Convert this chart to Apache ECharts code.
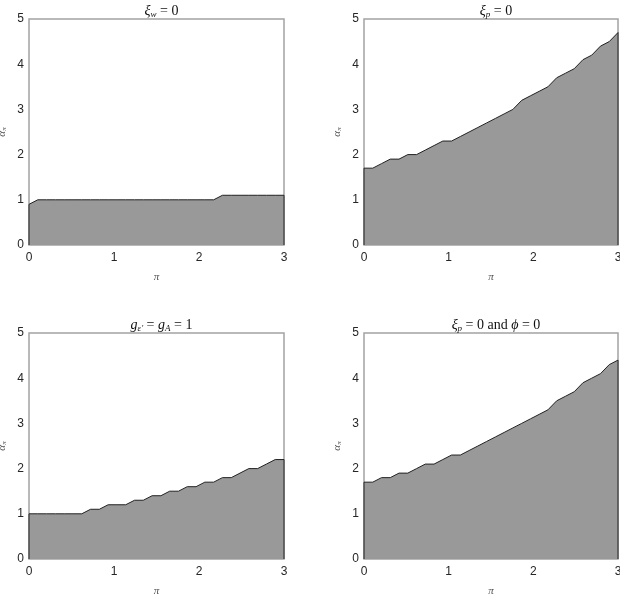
<!DOCTYPE html>
<html><head><meta charset="utf-8">
<script src="https://cdn.jsdelivr.net/npm/echarts@6/dist/echarts.min.js"></script>
<style>html,body{margin:0;padding:0;background:#fff}#c{width:620px;height:603px}</style>
</head><body><div id="c"></div>
<script>
const piValues = [0, 0.1034, 0.2069, 0.3103, 0.4138, 0.5172, 0.6207, 0.7241, 0.8276, 0.9310, 1.0345, 1.1379, 1.2414, 1.3448, 1.4483, 1.5517, 1.6552, 1.7586, 1.8621, 1.9655, 2.0690, 2.1724, 2.2759, 2.3793, 2.4828, 2.5862, 2.6897, 2.7931, 2.8966, 3.0];
const alphaXiW0 = [0.9, 1.0,1.0,1.0,1.0,1.0,1.0,1.0,1.0,1.0,1.0,1.0,1.0,1.0,1.0,1.0,1.0,1.0,1.0,1.0,1.0,1.0, 1.1,1.1,1.1,1.1,1.1,1.1,1.1,1.1];
const alphaXiP0 = [1.7,1.7,1.8,1.9,1.9,2.0,2.0,2.1,2.2,2.3,2.3,2.4,2.5,2.6,2.7,2.8,2.9,3.0,3.2,3.3,3.4,3.5,3.7,3.8,3.9,4.1,4.2,4.4,4.5,4.7];
const alphaG1 = [1.0,1.0,1.0,1.0,1.0,1.0,1.0,1.1,1.1,1.2,1.2,1.2,1.3,1.3,1.4,1.4,1.5,1.5,1.6,1.6,1.7,1.7,1.8,1.8,1.9,2.0,2.0,2.1,2.2,2.2];
const alphaXiP0Phi0 = [1.7,1.7,1.8,1.8,1.9,1.9,2.0,2.1,2.1,2.2,2.3,2.3,2.4,2.5,2.6,2.7,2.8,2.9,3.0,3.1,3.2,3.3,3.5,3.6,3.7,3.9,4.0,4.1,4.3,4.4];
const xTicks = [0, 1, 2, 3];
const yTicks = [0, 1, 2, 3, 4, 5];

const panels = [
  {title: '{i|ξ}{s|w}{n| = 0}', data: alphaXiW0, left: 29, top: 19, width: 255},
  {title: '{i|ξ}{s|p}{n| = 0}', data: alphaXiP0, left: 364, top: 19, width: 254},
  {title: '{i|g}{s|ε′}{n| = }{i|g}{s|A}{n| = 1}', data: alphaG1, left: 29, top: 333, width: 255},
  {title: '{i|ξ}{s|p}{n| = 0 and }{i|ϕ}{n| = 0}', data: alphaXiP0Phi0, left: 364, top: 333, width: 254}
];
const H = 226;
const serif = '"Liberation Serif", "DejaVu Serif", serif';
const sans = '"Liberation Sans", Arial, sans-serif';
const titleRich = {
  i: {fontFamily: serif, fontStyle: 'italic', fontWeight: 'normal', fontSize: 14, color: '#111'},
  n: {fontFamily: serif, fontWeight: 'normal', fontSize: 14, color: '#111'},
  s: {fontFamily: serif, fontStyle: 'italic', fontWeight: 'normal', fontSize: 9, color: '#111', padding: [6, 0, 0, 0]}
};
const option = {
  animation: false,
  title: panels.map(p => ({
    text: p.title, left: p.left + p.width / 2, top: p.top - 20, textAlign: 'center',
    textStyle: {fontWeight: 'normal', rich: titleRich}
  })),
  grid: panels.map(p => ({left: p.left, top: p.top, width: p.width, height: H,
    outerBoundsMode: 'none', containLabel: false,
    show: true, borderColor: '#a3a3a3', borderWidth: 1.5, backgroundColor: '#fff'})),
  xAxis: panels.map((p, k) => ({
    gridIndex: k, type: 'value', min: xTicks[0], max: xTicks[xTicks.length - 1], interval: 1,
    axisLine: {show: false}, axisTick: {show: false}, splitLine: {show: false},
    axisLabel: {fontFamily: sans, fontSize: 12, color: '#262626', margin: 7},
    name: '{i|π}', nameLocation: 'middle', nameGap: 27,
    nameTextStyle: {rich: {i: {fontFamily: serif, fontStyle: 'italic', fontSize: 11, color: '#555'}}}
  })),
  yAxis: panels.map((p, k) => ({
    gridIndex: k, type: 'value', min: yTicks[0], max: yTicks[yTicks.length - 1], interval: 1,
    axisLine: {show: false}, axisTick: {show: false}, splitLine: {show: false},
    axisLabel: {fontFamily: sans, fontSize: 12, color: '#262626', margin: 5},
    name: '{i|α}{s|π}', nameLocation: 'middle', nameGap: 21, nameRotate: 90,
    nameTextStyle: {rich: {
      i: {fontFamily: serif, fontStyle: 'italic', fontSize: 11, color: '#555'},
      s: {fontFamily: serif, fontStyle: 'italic', fontSize: 7, color: '#555', padding: [5, 0, 0, 0]}
    }}
  })),
  series: panels.map((p, k) => {
    const pts = piValues.map((x, i) => [x, p.data[i]]);
    pts.unshift([piValues[0], 0]);
    pts.push([piValues[piValues.length - 1], 0]);
    return {
      type: 'line', xAxisIndex: k, yAxisIndex: k, data: pts, symbol: 'none', clip: false,
      lineStyle: {color: '#222', width: 1},
      areaStyle: {color: '#999999', opacity: 1, origin: 'start'}
    };
  })
};
echarts.init(document.getElementById('c'), null, {renderer: 'canvas'}).setOption(option);
</script></body></html>
